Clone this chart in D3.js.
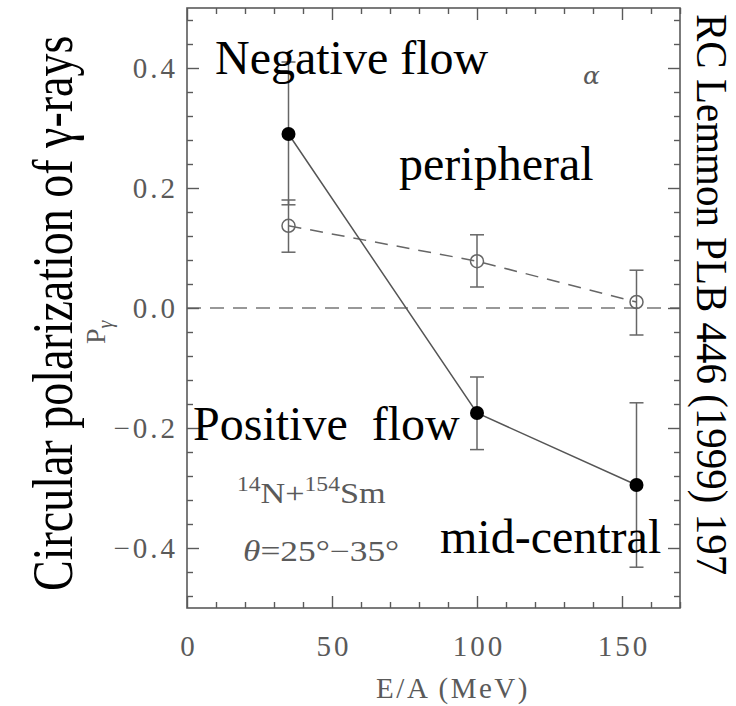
<!DOCTYPE html>
<html>
<head>
<meta charset="utf-8">
<script src="https://cdn.jsdelivr.net/npm/d3@7"></script>
<style>
  html, body { margin: 0; padding: 0; background: #fff; }
  svg { display: block; }
  svg text { white-space: pre; font-family: "Liberation Serif", "DejaVu Serif", serif; }
  svg text.alpha { font-family: "DejaVu Serif", serif; }
</style>
</head>
<body>
<svg id="chart" width="736" height="706"></svg>
<script>
// Beam energy per nucleon (MeV)
const energies = [35, 100, 155];

// Mid-central events (filled circles, solid line)
const midCentral = [0.29, -0.175, -0.295];
const midCentralLow = [0.172, -0.236, -0.432];
const midCentralHigh = [0.41, -0.115, -0.158];

// Peripheral events (open circles, dashed line)
const peripheral = [0.137, 0.078, 0.01];
const peripheralLow = [0.093, 0.035, -0.045];
const peripheralHigh = [0.18, 0.122, 0.063];

// Axis ticks
const xMajorTicks = [0, 50, 100, 150];
const yMajorTicks = [-0.4, -0.2, 0.0, 0.2, 0.4];

const svg = d3.select("#chart");
const axisGray = "#5a5a5a";

const x = d3.scaleLinear().domain([0, 170]).range([187, 680]);
const y = d3.scaleLinear().domain([-0.5, 0.5]).range([608, 8]);

const [x0, x1] = x.range();
const [yb, yt] = y.range();

// Minor tick positions
const xMinorTicks = d3.range(0, 171, 10).filter(v => !xMajorTicks.includes(v));
const yMinorTicks = d3.range(-0.48, 0.49, 0.04)
  .map(v => Math.round(v * 100) / 100)
  .filter(v => !yMajorTicks.some(t => Math.abs(t - v) < 1e-6));

// Zero reference line
svg.append("line")
  .attr("x1", x0).attr("x2", x1)
  .attr("y1", y(0)).attr("y2", y(0))
  .attr("stroke", "#777").attr("stroke-width", 1.6)
  .attr("stroke-dasharray", "14,9");

// Axes drawn with inward ticks on all four sides
function tickAxis(axisFn, scale, values, size, translate) {
  const g = svg.append("g")
    .attr("transform", translate)
    .call(axisFn(scale).tickValues(values).tickSize(size).tickFormat(""));
  g.select(".domain").remove();
  g.selectAll(".tick line").attr("stroke", axisGray).attr("stroke-width", 1.4);
  return g;
}
tickAxis(d3.axisBottom, x, xMajorTicks, -12, `translate(0,${yb})`);
tickAxis(d3.axisBottom, x, xMinorTicks, -6, `translate(0,${yb})`);
tickAxis(d3.axisTop, x, xMajorTicks, -12, `translate(0,${yt})`);
tickAxis(d3.axisTop, x, xMinorTicks, -6, `translate(0,${yt})`);
tickAxis(d3.axisLeft, y, yMajorTicks, -12, `translate(${x0},0)`);
tickAxis(d3.axisLeft, y, yMinorTicks, -6, `translate(${x0},0)`);
tickAxis(d3.axisRight, y, yMajorTicks, -12, `translate(${x1},0)`);
tickAxis(d3.axisRight, y, yMinorTicks, -6, `translate(${x1},0)`);

// Frame
svg.append("rect")
  .attr("x", x0).attr("y", yt)
  .attr("width", x1 - x0).attr("height", yb - yt)
  .attr("fill", "none").attr("stroke", axisGray).attr("stroke-width", 1.6);

// Tick labels
const tickFont = 29;
const yLabelAxis = svg.append("g")
  .attr("transform", `translate(${x0},0)`)
  .call(d3.axisLeft(y).tickValues(yMajorTicks).tickSize(0).tickPadding(9)
    .tickFormat(d => d3.format(".1f")(d).replace("-", "\u2212")));
yLabelAxis.select(".domain").remove();
yLabelAxis.attr("font-family", null).attr("font-size", null);
yLabelAxis.selectAll("text")
  .attr("font-size", tickFont)
  .attr("fill", axisGray).attr("letter-spacing", 3);

const xLabelAxis = svg.append("g")
  .attr("transform", `translate(0,${yb})`)
  .call(d3.axisBottom(x).tickValues(xMajorTicks).tickSize(0).tickPadding(27)
    .tickFormat(d3.format("d")));
xLabelAxis.select(".domain").remove();
xLabelAxis.attr("font-family", null).attr("font-size", null);
xLabelAxis.selectAll("text")
  .attr("font-size", tickFont)
  .attr("fill", axisGray).attr("letter-spacing", 3)
  .attr("dx", 1.5);

// Axis titles
svg.append("text")
  .attr("x", 453).attr("y", 698)
  .attr("text-anchor", "middle")
  .attr("font-size", 29)
  .attr("fill", axisGray).attr("letter-spacing", 2.5)
  .text("E/A (MeV)");

const pLabel = svg.append("text")
  .attr("transform", "translate(105,344) rotate(-90)")
  .attr("font-size", 28)
  .attr("fill", axisGray);
pLabel.append("tspan").text("P");
pLabel.append("tspan").attr("font-size", 20).attr("font-style", "italic")
  .attr("dy", 7).text("\u03b3");

// Data series
const midPts = energies.map((e, i) => ({ e, v: midCentral[i], lo: midCentralLow[i], hi: midCentralHigh[i] }));
const perPts = energies.map((e, i) => ({ e, v: peripheral[i], lo: peripheralLow[i], hi: peripheralHigh[i] }));

const line = d3.line().x(d => x(d.e)).y(d => y(d.v));

function errorBars(pts) {
  const g = svg.append("g").attr("stroke", "#666").attr("stroke-width", 1.5);
  pts.forEach(d => {
    g.append("line").attr("x1", x(d.e)).attr("x2", x(d.e)).attr("y1", y(d.lo)).attr("y2", y(d.hi));
    g.append("line").attr("x1", x(d.e) - 7).attr("x2", x(d.e) + 7).attr("y1", y(d.lo)).attr("y2", y(d.lo));
    g.append("line").attr("x1", x(d.e) - 7).attr("x2", x(d.e) + 7).attr("y1", y(d.hi)).attr("y2", y(d.hi));
  });
}
errorBars(perPts);
errorBars(midPts);

svg.append("path").datum(perPts)
  .attr("d", line).attr("fill", "none")
  .attr("stroke", "#666").attr("stroke-width", 1.5)
  .attr("stroke-dasharray", "13,9");

svg.append("path").datum(midPts)
  .attr("d", line).attr("fill", "none")
  .attr("stroke", "#555").attr("stroke-width", 1.5);

svg.append("g").selectAll("circle").data(perPts).join("circle")
  .attr("cx", d => x(d.e)).attr("cy", d => y(d.v)).attr("r", 6.5)
  .attr("fill", "none").attr("stroke", "#666").attr("stroke-width", 1.5);

svg.append("g").selectAll("circle").data(midPts).join("circle")
  .attr("cx", d => x(d.e)).attr("cy", d => y(d.v)).attr("r", 7)
  .attr("fill", "#000");

// In-plot annotations
svg.append("text").attr("class", "alpha")
  .attr("x", 583).attr("y", 84)
  .attr("font-style", "italic")
  .attr("font-size", 25).attr("fill", axisGray)
  .text("\u03b1");

const reaction = svg.append("text")
  .attr("transform", "translate(237,503) scale(1.18,1)")
  .attr("font-size", 29).attr("fill", axisGray);
reaction.append("tspan").attr("font-size", 20).attr("dy", -12).text("14");
reaction.append("tspan").attr("dy", 12).text("N+");
reaction.append("tspan").attr("font-size", 20).attr("dy", -12).text("154");
reaction.append("tspan").attr("dy", 12).text("Sm");

const angle = svg.append("text")
  .attr("transform", "translate(243,561) scale(1.22,1)")
  .attr("font-size", 29).attr("fill", axisGray);
angle.append("tspan").attr("font-style", "italic").text("\u03b8");
angle.append("tspan").text("=25\u00b0\u221235\u00b0");

// Overlaid black labels
const labelFont = 48;
[
  { t: "Negative flow", x: 215, y: 74 },
  { t: "peripheral", x: 399, y: 180 },
  { t: "Positive  flow", x: 193, y: 440 },
  { t: "mid-central", x: 440, y: 553 }
].forEach(d => {
  svg.append("text")
    .attr("x", d.x).attr("y", d.y)
    .attr("font-size", labelFont)
    .attr("fill", "#000")
    .text(d.t);
});

svg.append("text")
  .attr("transform", "translate(72,591) rotate(-90) scale(1,1.22)")
  .attr("font-size", 46)
  .attr("fill", "#000")
  .text("Circular polarization of \u03b3-rays");

svg.append("text")
  .attr("transform", "translate(697,14) rotate(90) scale(1,1.1)")
  .attr("font-size", 41)
  .attr("fill", "#000")
  .text("RC Lemmon PLB 446 (1999) 197");
</script>
</body>
</html>
